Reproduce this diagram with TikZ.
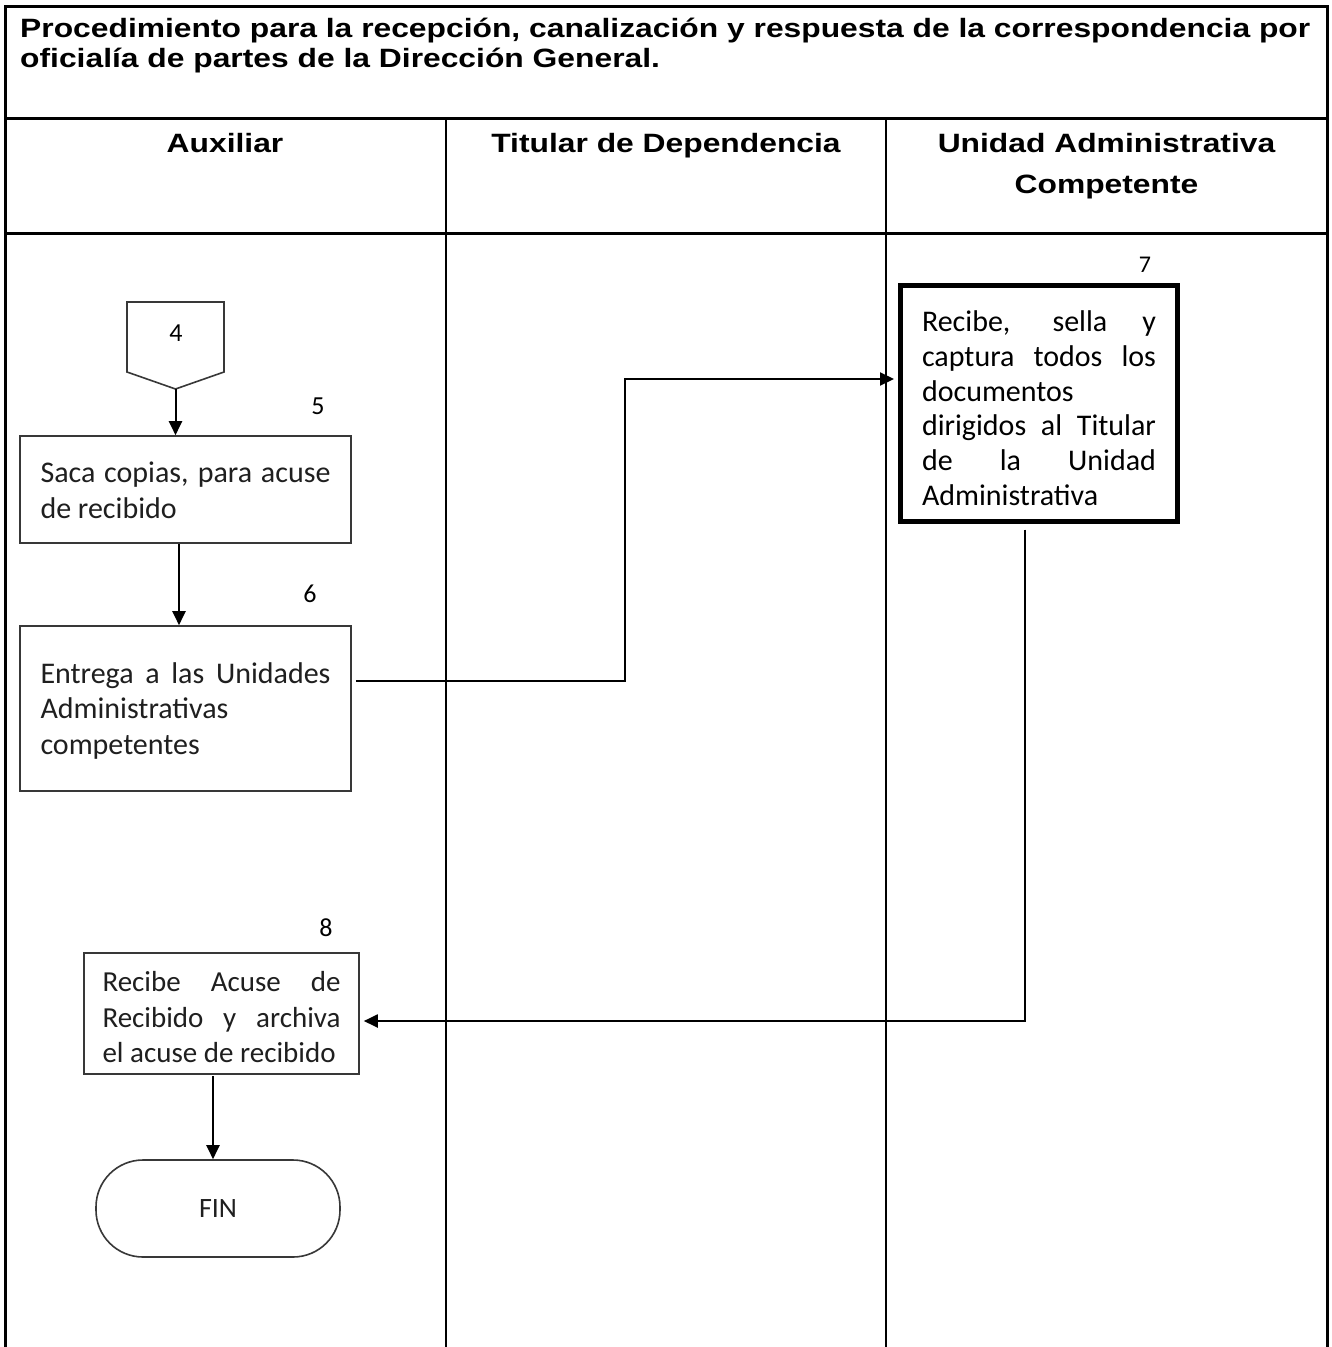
\documentclass[tikz,border=0pt]{standalone}
\usepackage{fontspec}
\setmainfont{Carlito}
\newfontfamily\hdrfont[FakeStretch=1.2]{Liberation Sans}
\usetikzlibrary{arrows.meta,calc}
\tolerance=10000
\hbadness=10000
\parindent=0pt
% zero-width strut fixing the height of a first text line
\newcommand\firstline[1]{\rule{0pt}{#1}}

\begin{document}
\begin{tikzpicture}[x=1pt,y=-1pt,
  rule/.style={line width=3pt},
  lane/.style={line width=2.2pt},
  hdr/.style={font=\hdrfont\bfseries\fontsize{26.5}{30}\selectfont, inner sep=0pt},
  stepbox/.style={rectangle, draw=black!78, line width=1.6pt, inner sep=0pt,
    align=justify, text=black!88, font=\fontsize{30}{35.5}\selectfont},
  numlbl/.style={font=\fontsize{26}{28}\selectfont, inner sep=0pt},
  shapeline/.style={draw=black!78, line width=1.6pt},
  flow/.style={line width=2pt, -{Triangle[length=14pt,width=13pt]}},
]
\useasboundingbox (0,0) rectangle (1332,1347);
\fill[white] (0,0) rectangle (1332,1347);

% table frame and swimlanes
\draw[rule] (5,1347) -- (5,6) -- (1327,6) -- (1327,1347);
\draw[rule] (5,118) -- (1327,118);
\draw[rule] (5,233) -- (1327,233);
\draw[lane] (446,118) -- (446,1347);
\draw[lane] (886,118) -- (886,1347);

% title and lane headers
\node[hdr, anchor=north west, align=left] (title) at (20,11)
  {\firstline{26pt}Procedimiento para la recepción, canalización y respuesta de la correspondencia por\\oficialía de partes de la Dirección General.};
\node[hdr, anchor=base] (h1) at (225,152) {Auxiliar};
\node[hdr, anchor=base] (h2) at (666,152) {Titular de Dependencia};
\node[hdr, anchor=north, align=center, font=\hdrfont\bfseries\fontsize{26.5}{41}\selectfont] (h3) at (1106.5,126)
  {\firstline{26pt}Unidad Administrativa\\Competente};

% off-page connector 4
\draw[shapeline] (127,302) -- (224,302) -- (224,372) -- (175.5,389) -- (127,372) -- cycle;
\node[numlbl] (n4) at (176,333) {4};
\coordinate (c4tip) at (175.5,389);

% process steps
\node[stepbox, minimum width=331, minimum height=107, text width=290] (s5) at (185.5,489.5)
  {\firstline{22.5pt}Saca copias, para acuse\break de recibido};
\node[numlbl] (k5) at (318,406) {5};

\node[stepbox, minimum width=331, minimum height=165, text width=290] (s6) at (185.5,708.5)
  {\firstline{25pt}Entrega a las Unidades\break Administrativas\hfil\break competentes};
\node[numlbl] (k6) at (310,594) {6};

\node[stepbox, draw=black, text=black, line width=5pt, minimum width=277, minimum height=235.5, text width=234,
      font=\fontsize{30}{34.7}\selectfont] (s7) at (1039,403.25)
  {\firstline{31pt}Recibe, sella y\break captura todos los\break documentos\hfil\break dirigidos al Titular\break de la Unidad\break Administrativa};
\node[numlbl, font=\fontsize{24}{26}\selectfont] (k7) at (1145,265) {7};

\node[stepbox, minimum width=275, minimum height=121, text width=238,
      font=\fontsize{29}{35.5}\selectfont] (s8) at (221.5,1013.5)
  {\firstline{28pt}Recibe Acuse de\break Recibido y archiva\break el acuse de recibido};
\node[numlbl] (k8) at (326,928) {8};

\node[draw=black!78, line width=1.6pt, rounded corners=47pt, minimum width=244, minimum height=97,
      text=black!88, font=\fontsize{28}{30}\selectfont] (fin) at (218,1208.5) {FIN};

% connectors
\draw[flow] (c4tip) -- (c4tip |- s5.north);
\draw[flow] ($(s5.south)+(-6.5,0)$) -- ($(s6.north)+(-6.5,0)$);
\coordinate (bend67) at (625,379);
\draw[flow] ($(s6.east)+(4,-27.5)$) -| (bend67) -- ($(s7.west)+(-4,-24.25)$);
\draw[flow] ($(s7.south)+(-14,6)$) |- ($(s8.east)+(4,7.5)$);
\coordinate (d8) at ($(s8.south)+(-8.5,1)$);
\draw[flow] (d8) -- (d8 |- fin.north);
\end{tikzpicture}
\end{document}
